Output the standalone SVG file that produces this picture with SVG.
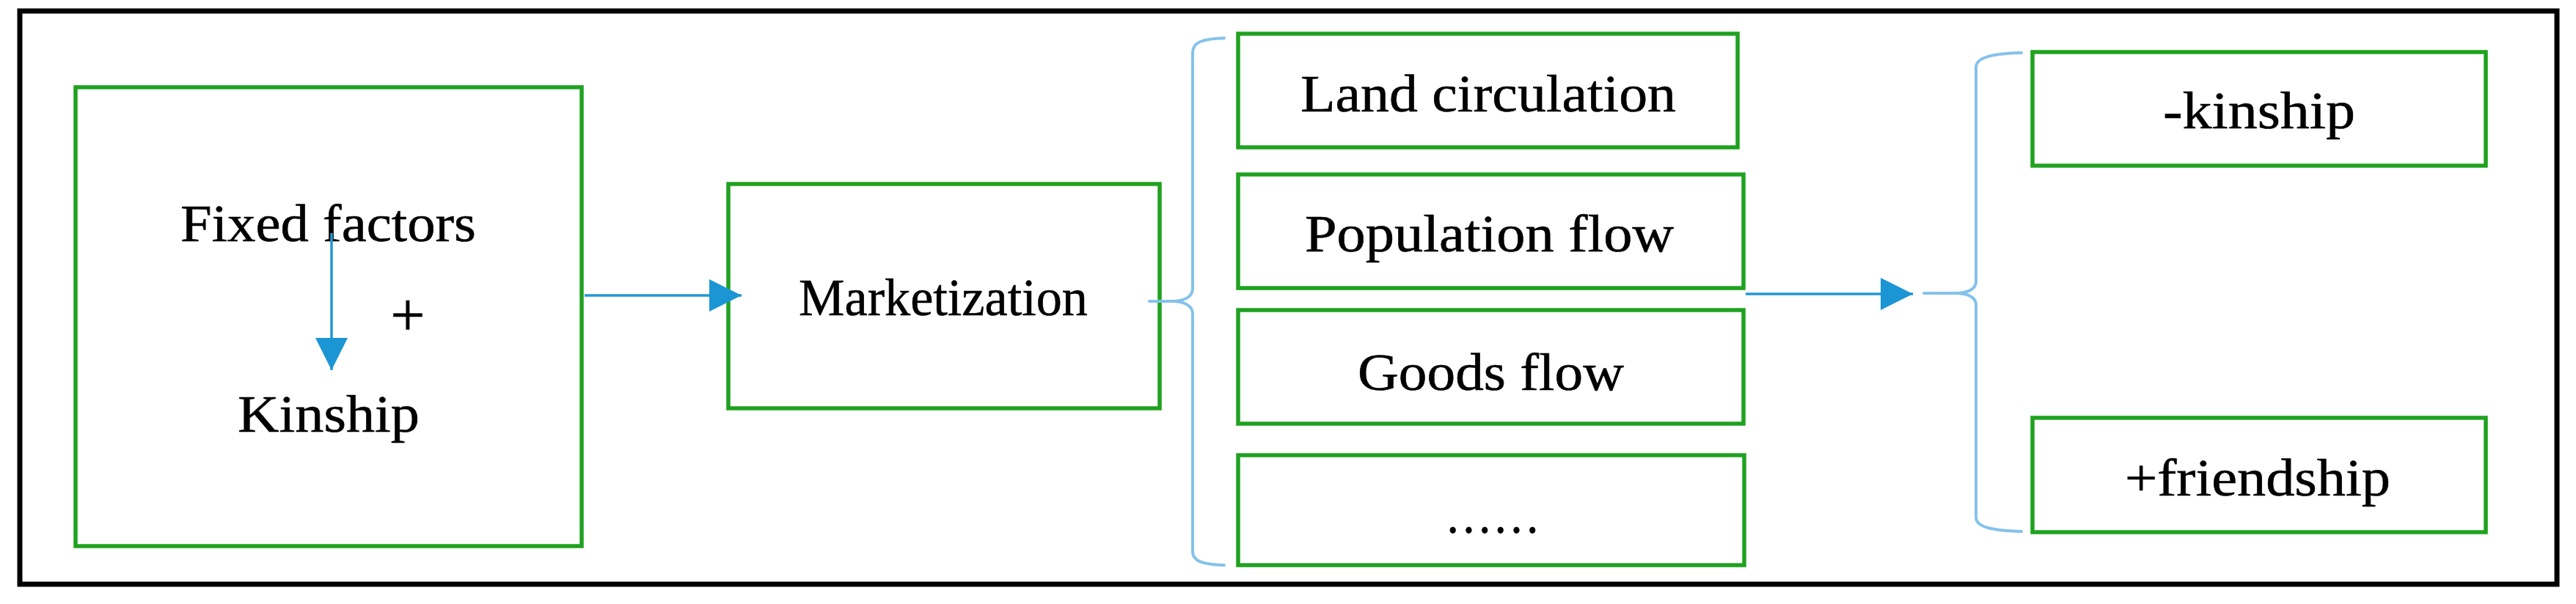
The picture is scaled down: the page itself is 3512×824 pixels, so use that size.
<svg xmlns="http://www.w3.org/2000/svg" width="3512" height="824" viewBox="0 0 3512 824">
<style>
.frame{fill:none;stroke:#000;stroke-width:7}
.box{fill:#fff;stroke:#1fa21f;stroke-width:5.5}
.lbl{font-family:"Liberation Serif","Times New Roman",serif;font-size:71px;fill:#000;stroke:#000;stroke-width:0.6}
.arr{fill:none;stroke:#2196d6;stroke-width:3.5}
.brace{fill:none;stroke:#84c2ea;stroke-width:4;stroke-linecap:round;stroke-linejoin:round}
</style>
<defs>
<marker id="ah" viewBox="0 0 44 44" refX="44" refY="22" markerWidth="44" markerHeight="44" markerUnits="userSpaceOnUse" orient="auto">
<path d="M0,0 L44,22 L0,44 Z" fill="#1b95d4"/>
</marker>
</defs>
<rect width="3512" height="824" fill="#fff"/>
<rect class="frame" x="27" y="15" width="3459" height="782"/>
<g id="node-fixed">
<rect class="box" x="103" y="119" width="690" height="626"/>
<text class="lbl" x="246" y="329" textLength="403" lengthAdjust="spacingAndGlyphs">Fixed factors</text>
<text class="lbl" x="556" y="458" text-anchor="middle" style="font-size:84px">+</text>
<text class="lbl" x="324" y="589" textLength="248" lengthAdjust="spacingAndGlyphs">Kinship</text>
</g>
<g id="node-market">
<rect class="box" x="993" y="251" width="588" height="306"/>
<text class="lbl" x="1089" y="430" textLength="394" lengthAdjust="spacingAndGlyphs">Marketization</text>
</g>
<g id="node-land">
<rect class="box" x="1688" y="46" width="681" height="155"/>
<text class="lbl" x="1773" y="152" textLength="512" lengthAdjust="spacingAndGlyphs">Land circulation</text>
</g>
<g id="node-pop">
<rect class="box" x="1688" y="238" width="689" height="155"/>
<text class="lbl" x="1779" y="343" textLength="503" lengthAdjust="spacingAndGlyphs">Population flow</text>
</g>
<g id="node-goods">
<rect class="box" x="1688" y="423" width="689" height="155"/>
<text class="lbl" x="1851" y="532" textLength="363" lengthAdjust="spacingAndGlyphs">Goods flow</text>
</g>
<g id="node-more">
<rect class="box" x="1688" y="621" width="690" height="150"/>
<text class="lbl" x="1970" y="727" textLength="130" lengthAdjust="spacingAndGlyphs">……</text>
</g>
<g id="node-kinship">
<rect class="box" x="2771" y="71" width="618" height="155"/>
<text class="lbl" x="2949" y="175" textLength="262" lengthAdjust="spacingAndGlyphs">-kinship</text>
</g>
<g id="node-friendship">
<rect class="box" x="2771" y="570" width="618" height="156"/>
<text class="lbl" x="2897" y="676" textLength="362" lengthAdjust="spacingAndGlyphs">+friendship</text>
</g>
<g id="connectors">
<path class="arr" d="M452,318 L452,505" marker-end="url(#ah)"/>
<path class="arr" d="M797,403 L1011,403" marker-end="url(#ah)"/>
<path class="arr" d="M2380,401 L2608,401" marker-end="url(#ah)"/>
<path class="brace" d="M1669,52 C1640,53 1626,57 1626,72 L1626,394 C1626,405 1614,411 1598,411 L1567,411 M1598,411 C1614,411 1626,417 1626,428 L1626,752 C1626,766 1640,770 1669,771"/>
<path class="brace" d="M2756,72 C2724,73 2694,76 2694,92 L2694,384 C2694,395 2682,400 2665,400 L2623,400 M2665,400 C2682,400 2694,405 2694,416 L2694,706 C2694,721 2724,724 2756,725"/>
</g>
</svg>
